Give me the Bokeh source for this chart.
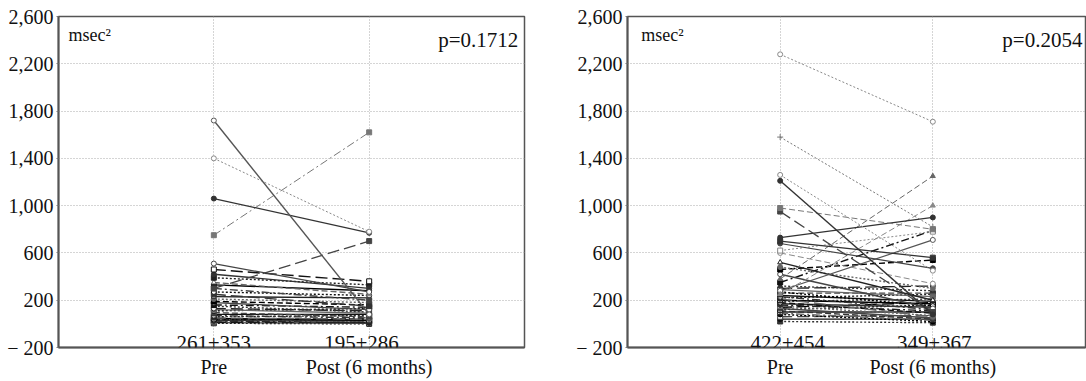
from bokeh.plotting import figure
from bokeh.layouts import row
from bokeh.models import FixedTicker, CustomJSTickFormatter, Label, Range1d
from bokeh.embed import file_html
from bokeh.resources import INLINE

# ---------------- data ----------------
categories = ["Pre", "Post (6 months)"]
y_ticks = [-200, 200, 600, 1000, 1400, 1800, 2200, 2600]

left_pre = [1720, 1400, 1060, 750, 300, 510, 460, 420, 390, 350, 330, 300, 270, 250, 230,
            210, 190, 180, 160, 150, 130, 120, 110, 95, 80, 70, 60, 50, 45, 40, 35, 30,
            25, 20, 15, 10, 5]
left_post = [80, 780, 770, 1620, 700, 270, 360, 300, 330, 250, 280, 200, 240, 150, 220,
             180, 160, 120, 140, 100, 110, 90, 130, 60, 80, 50, 70, 40, 30, 20, 45, 25,
             10, 35, 15, 5, 0]
left_p = "p=0.1712"
left_stats = ["261\u00b1353", "195\u00b1286"]

right_pre = [2280, 1580, 1260, 1210, 980, 950, 730, 700, 680, 620, 600, 380, 250, 280, 520,
             480, 460, 420, 350, 320, 300, 290, 270, 260, 240, 230, 220, 210, 200, 190,
             180, 170, 160, 150, 140, 130, 120, 110, 100, 90, 80, 60, 40, 20]
right_post = [1710, 820, 450, 80, 800, 100, 900, 560, 470, 780, 340, 1250, 1000, 710, 200,
              300, 540, 130, 790, 280, 320, 230, 150, 260, 190, 120, 250, 60, 170, 210,
              90, 140, 110, 70, 180, 50, 160, 40, 100, 30, 20, 70, 40, 10]
right_p = "p=0.2054"
right_stats = ["422\u00b1454", "349\u00b1367"]

# ---------------- styles ----------------
left_special = [
    ("solid", "#555555", "circle", False, 1.4),
    ("2 2", "#888888", "circle", False, 1.0),
    ("solid", "#333333", "circle", True, 1.3),
    ("8 3 2 3", "#777777", "square", True, 1.0),
    ("12 5", "#444444", "square", True, 1.3),
    ("solid", "#444444", "circle", False, 1.2),
]
right_special = [
    ("2 2", "#888888", "circle", False, 1.0),
    ("2 2", "#777777", "cross", False, 1.0),
    ("2 2", "#888888", "circle", False, 1.0),
    ("solid", "#333333", "circle", True, 1.4),
    ("6 3", "#777777", "square", True, 1.0),
    ("12 5", "#444444", "square", True, 1.3),
    ("solid", "#333333", "circle", True, 1.3),
    ("solid", "#333333", "square", True, 1.3),
    ("solid", "#444444", "circle", True, 1.2),
    ("2 2", "#888888", "square", False, 1.0),
    ("6 3", "#888888", "circle", False, 1.0),
    ("6 3", "#666666", "triangle", True, 1.0),
    ("6 3", "#888888", "triangle", True, 1.0),
    ("solid", "#555555", "circle", False, 1.2),
]
dash_cycle = ["solid", "2 2", "6 3", "solid", "8 3 2 3", "2 2", "12 5"]
color_cycle = ["#111111", "#333333", "#222222", "#666666", "#000000", "#444444"]
marker_cycle = ["circle", "square", "circle", "square", "triangle"]
fill_cycle = [True, False, True, True, False, True, False, True]

FONT = "Liberation Serif"


def style_for(i, special):
    if i < len(special):
        return special[i]
    return (dash_cycle[i % 7], color_cycle[i % 6], marker_cycle[i % 5], fill_cycle[i % 8], 1.4)


def make_panel(pre, post, special, ptext, stats, width, bl, br, msec_x, p_x, stat_x):
    p = figure(width=width, height=381, x_range=Range1d(0, 3), y_range=Range1d(-200, 2600),
               output_backend="svg", toolbar_location=None,
               min_border_left=bl, min_border_right=br, min_border_top=16, min_border_bottom=34)
    p.background_fill_color = "white"
    p.border_fill_color = "white"
    p.outline_line_color = "#555555"
    p.outline_line_width = 1.5

    p.xaxis.ticker = FixedTicker(ticks=[1, 2])
    p.xaxis.major_label_overrides = {1: categories[0], 2: categories[1]}
    p.yaxis.ticker = FixedTicker(ticks=y_ticks)
    p.yaxis.formatter = CustomJSTickFormatter(code=r"""
        const a = Math.abs(tick).toString().replace(/\B(?=(\d{3})+(?!\d))/g, ",");
        return tick < 0 ? "\u2212 " + a : a;
    """)
    for ax in (p.xaxis[0], p.yaxis[0]):
        ax.axis_line_color = "#555555"
        ax.axis_line_width = 2
        ax.major_tick_line_color = "#777777"
        ax.major_tick_in = 0
        ax.major_tick_out = 2
        ax.minor_tick_line_color = None
        ax.major_label_text_font = FONT
        ax.major_label_text_font_size = "20px"
        ax.major_label_text_color = "#111111"
    p.xaxis.major_label_standoff = 6
    p.yaxis.major_label_standoff = 3

    p.xgrid.ticker = FixedTicker(ticks=[1, 2])
    p.ygrid.ticker = FixedTicker(ticks=y_ticks)
    for g in (p.xgrid[0], p.ygrid[0]):
        g.grid_line_color = "#aaaaaa"
        g.grid_line_dash = "1 2"
        g.grid_line_width = 1

    n = len(pre)
    for i in reversed(range(n)):
        dash, color, marker, filled, lw = style_for(i, special)
        p.line([1, 2], [pre[i], post[i]], line_color=color, line_dash=dash, line_width=lw)
        p.scatter([1, 2], [pre[i], post[i]], marker=marker, size=5 if marker != "cross" else 6,
                  line_color=color, fill_color=color if filled else "white", line_width=1)

    p.add_layout(Label(x=msec_x, y=2445, text="msec\u00b2", text_font=FONT,
                       text_font_size="18px", text_color="#111111",
                       text_baseline="alphabetic", text_align="left"))
    p.add_layout(Label(x=p_x, y=2400, text=ptext, text_font=FONT,
                       text_font_size="21px", text_color="#111111",
                       text_baseline="alphabetic", text_align="right"))
    for k in range(2):
        p.add_layout(Label(x=stat_x[k], y=-165, text=stats[k], text_font=FONT,
                           text_font_size="21px", text_color="#111111",
                           text_baseline="alphabetic", text_align="center"))
    return p


p1 = make_panel(left_pre, left_post, left_special, left_p, left_stats, 560, 58, 36,
                0.065, 2.96, [1.0, 1.95])
p2 = make_panel(right_pre, right_post, right_special, right_p, right_stats, 526, 67, 1,
                0.09, 2.98, [1.05, 2.01])

layout = row(p1, p2)
open("out.html", "w").write(file_html(layout, INLINE))
